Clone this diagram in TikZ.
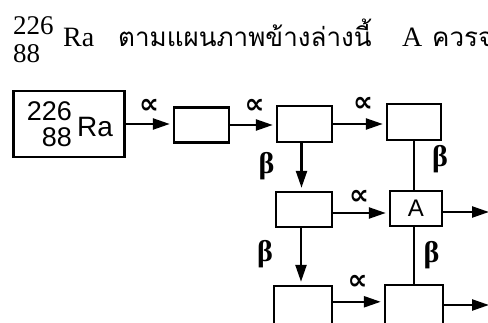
\documentclass[tikz,border=0pt]{standalone}
\usepackage{fontspec}
\setmainfont{Liberation Serif}
\newfontfamily\thaifont[Script=Thai]{Loma}
\newfontfamily\sansf{Liberation Sans}
\newfontfamily\dv{DejaVu Sans}
\usetikzlibrary{arrows.meta}
\begin{document}
\begin{tikzpicture}[x=1pt,y=-1pt,
  box/.style={draw, line width=2.4pt, inner sep=0pt},
  link/.style={line width=2.4pt},
  arr/.style={link, -{Triangle[length=17pt,width=11pt]}, shorten >=3pt},
  alab/.style={inner sep=0pt, font=\dv\bfseries\fontsize{28}{28}\selectfont},
  blab/.style={inner sep=0pt, font=\bfseries\fontsize{30}{30}\selectfont},
  ttl/.style={anchor=base west, inner sep=0pt, font=\fontsize{28}{28}\selectfont},
  tthai/.style={anchor=base west, inner sep=0pt, font=\thaifont\fontsize{26}{26}\selectfont},
  sanstxt/.style={inner sep=0pt, font=\sansf\fontsize{28}{28}\selectfont}]
\useasboundingbox[fill=white] (0,0) rectangle (488,323);
% title
\node[anchor=base west, inner sep=0pt, font=\fontsize{27}{28}\selectfont, align=left] (tnum) at (13,63) {226\\88};
\node[ttl] (tra) at (63,47) {Ra};
\node[tthai] (th1) at (118,47) {ตามแผนภาพข้างล่างนี้};
\node[ttl] (ta) at (402,47) {A};
\node[tthai] (th2) at (432,47) {ควรจ};
% boxes
\node[box, minimum width=111pt, minimum height=66pt] (b1) at (69,124) {};
\node[sanstxt, anchor=base east, align=right, font=\sansf\fontsize{27}{26}\selectfont] (inum) at (72,147) {226\\88};
\node[sanstxt, anchor=base west] (ira) at (77,137) {Ra};
\node[box, minimum width=55pt, minimum height=35pt] (b2) at (201.5,125) {};
\node[box, minimum width=55pt, minimum height=36pt] (b3) at (304.5,124) {};
\node[box, minimum width=54pt, minimum height=36pt] (b4) at (414,122) {};
\node[box, minimum width=56pt, minimum height=35pt] (b5) at (304,209.5) {};
\node[box, minimum width=52pt, minimum height=35pt, font=\sansf\fontsize{24}{24}\selectfont] (bA) at (416,208.5) {A};
\node[box, minimum width=58pt, minimum height=60pt] (b7) at (303,316) {};
\node[box, minimum width=58pt, minimum height=60pt] (b8) at (414,315) {};
\coordinate (eA) at (489,212);
\coordinate (e8) at (489,305);
% connectors
\draw[arr] (b1.east) -- (b1.east -| b2.west);
\draw[arr] (b2.east) -- (b2.east -| b3.west);
\draw[arr] (b3.east) -- (b3.east -| b4.west);
\draw[arr] ([xshift=-3pt]b3.south) -- ([xshift=-3pt]b3.south |- b5.north);
\draw[link] (b4.south) -- (b4.south |- bA.north);
\draw[arr] ([yshift=-3.5pt]b5.east) -- ([yshift=-3.5pt]b5.east -| bA.west);
\draw[arr, shorten >=0pt] (bA.east |- eA) -- (eA);
\draw[arr] ([xshift=-3pt]b5.south) -- ([xshift=-3pt]b5.south |- b7.north);
\draw[link] ([xshift=-2pt]bA.south) -- ([xshift=-2pt]bA.south |- b8.north);
\draw[arr] ([yshift=-17pt]b7.north east) -- ([yshift=-17pt]b7.north east -| b8.west);
\draw[arr, shorten >=0pt] (b8.east |- e8) -- (e8);
% labels
\node[alab] (a1) at (149,106) {∝};
\node[alab] (a2) at (254.5,106) {∝};
\node[alab] (a3) at (363,104) {∝};
\node[alab] (a4) at (359,197.5) {∝};
\node[alab] (a5) at (357.5,282.5) {∝};
\node[blab] (be1) at (266.5,166.5) {β};
\node[blab] (be2) at (440,159) {β};
\node[blab] (be3) at (265,254) {β};
\node[blab] (be4) at (431.5,255) {β};
\end{tikzpicture}
\end{document}
